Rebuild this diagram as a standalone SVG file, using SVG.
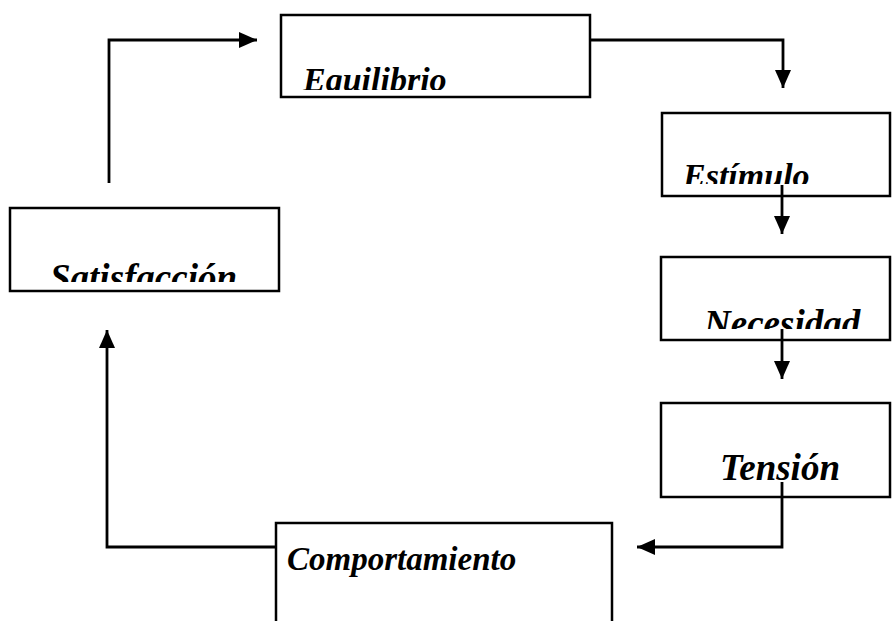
<svg xmlns="http://www.w3.org/2000/svg" width="894" height="621" viewBox="0 0 894 621">
<style>
.box{fill:#fff;stroke:#000;stroke-width:2.5}
.lbl{font-family:"Liberation Serif","Times New Roman",serif;font-weight:bold;font-style:italic;fill:#000}
.con{fill:none;stroke:#000;stroke-width:2.8}
</style>
<defs>
<marker id="ah" markerUnits="userSpaceOnUse" markerWidth="20" markerHeight="20" viewBox="0 0 20 20" refX="18" refY="10" orient="auto">
<path d="M0,2 L18,10 L0,18 Z" fill="#000"/>
</marker>
<clipPath id="cEq"><rect x="282" y="16" width="307" height="74"/></clipPath>
<clipPath id="cEs"><rect x="663" y="114" width="227" height="70"/></clipPath>
<clipPath id="cNe"><rect x="662" y="258" width="228" height="71"/></clipPath>
<clipPath id="cSa"><rect x="11" y="209" width="267" height="73"/></clipPath>
</defs>
<rect width="894" height="621" fill="#fff"/>
<g id="equilibrio">
<rect class="box" x="281" y="15" width="309" height="82"/>
<text class="lbl" x="303" y="91" font-size="34" clip-path="url(#cEq)">Equilibrio</text>
</g>
<g id="estimulo">
<rect class="box" x="662" y="113" width="228" height="83"/>
<text class="lbl" x="683" y="187" font-size="34" clip-path="url(#cEs)">Estímulo</text>
</g>
<g id="necesidad">
<rect class="box" x="661" y="257" width="229" height="83"/>
<text class="lbl" x="704" y="336" font-size="37" clip-path="url(#cNe)">Necesidad</text>
</g>
<g id="tension">
<rect class="box" x="661" y="403" width="229" height="94"/>
<text class="lbl" x="720" y="480" font-size="37">Tensión</text>
</g>
<g id="satisfaccion">
<rect class="box" x="10" y="208" width="269" height="83"/>
<text class="lbl" x="50" y="290" font-size="37" clip-path="url(#cSa)">Satisfacción</text>
</g>
<g id="comportamiento">
<rect class="box" x="276" y="523" width="336" height="120"/>
<text class="lbl" x="287" y="570" font-size="33">Comportamiento</text>
</g>
<g id="connectors">
<polyline class="con" points="109,183 109,40 257,40" marker-end="url(#ah)"/>
<polyline class="con" points="590,40 783,40 783,88" marker-end="url(#ah)"/>
<polyline class="con" points="782,185 782,234" marker-end="url(#ah)"/>
<polyline class="con" points="782,329 782,379" marker-end="url(#ah)"/>
<polyline class="con" points="782,482 782,547 637,547" marker-end="url(#ah)"/>
<polyline class="con" points="276,547 107,547 107,330" marker-end="url(#ah)"/>
</g>
</svg>
